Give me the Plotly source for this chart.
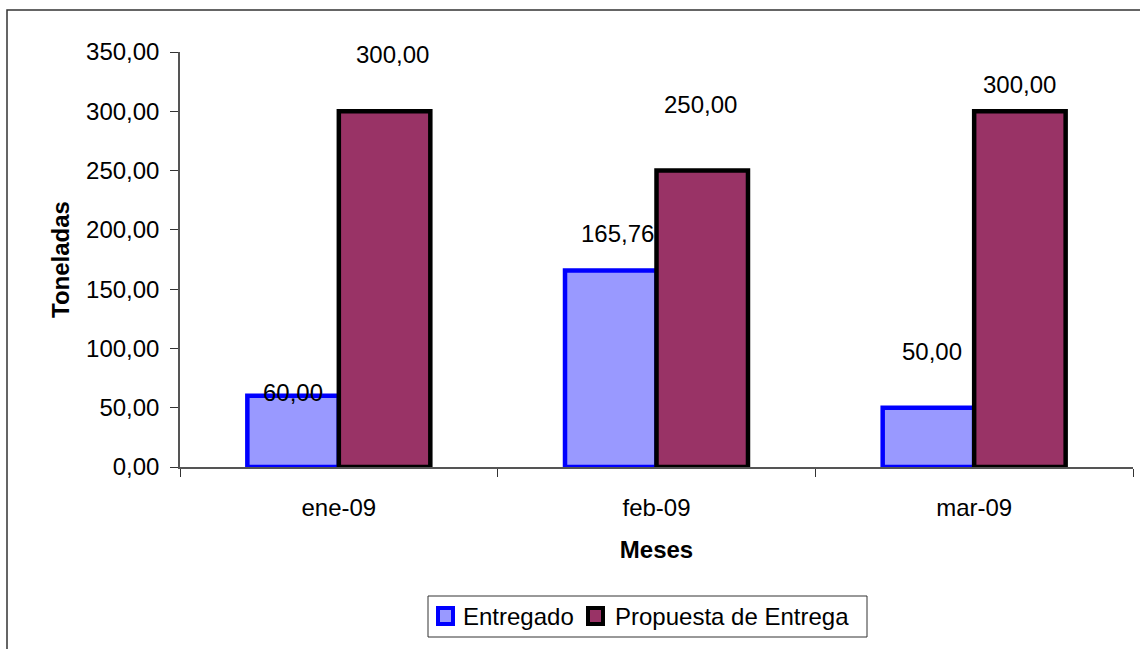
import plotly.graph_objects as go

# Monthly deliveries (tonnes)
meses = ["ene-09", "feb-09", "mar-09"]
entregado = [60.00, 165.76, 50.00]
propuesta = [300.00, 250.00, 300.00]
y_ticks = [0, 50, 100, 150, 200, 250, 300, 350]

# Label offsets (pixels) relative to each bar's top centre
ent_offsets = [(0, 3), (7, 37), (4, 56)]
pro_offsets = [(8, 57), (-2, 66), (0, 27)]

FONT = "Liberation Sans, Arial, sans-serif"
FS = 24

W, H = 1140, 649
ML, MR, MT, MB = 180, 7, 52, 182
PW, PH = W - ML - MR, H - MT - MB


def fmt(v):
    return f"{v:,.2f}".replace(",", "X").replace(".", ",").replace("X", ".")


def px_x(x):
    return (x - ML) / PW


def px_y(y):
    return 1 - (y - MT) / PH


series = [
    dict(name="Entregado", values=entregado, fill="#9999FF", edge="#0000FF"),
    dict(name="Propuesta de Entrega", values=propuesta, fill="#993366", edge="#000000"),
]

fig = go.Figure()
for s in series:
    fig.add_trace(go.Bar(
        name=s["name"], x=meses, y=s["values"],
        marker=dict(color=s["fill"], line=dict(color=s["edge"], width=4.5)),
    ))

annotations = []
half = 0.288  # half of the category share taken by one bar
for i, m in enumerate(meses):
    for val, (dx, dy), side in ((entregado[i], ent_offsets[i], -1),
                                (propuesta[i], pro_offsets[i], 1)):
        annotations.append(dict(
            x=i + side * half / 2, y=val, xref="x", yref="y",
            text=fmt(val), showarrow=False,
            xshift=dx, yshift=dy,
            font=dict(family=FONT, size=FS, color="black"),
        ))

# Legend drawn as a framed box with swatches
shapes = [
    # outer chart frame
    dict(type="rect", xref="paper", yref="paper",
         x0=px_x(7), x1=px_x(1160), y0=px_y(670), y1=px_y(10),
         line=dict(color="#333333", width=1.5), layer="below"),
    # legend frame
    dict(type="rect", xref="paper", yref="paper",
         x0=px_x(428), x1=px_x(867), y0=px_y(637), y1=px_y(596),
         line=dict(color="#333333", width=1), layer="above"),
]
legend_items = [(436, 461), (586, 613)]
for s, (sx, tx) in zip(series, legend_items):
    shapes.append(dict(
        type="rect", xref="paper", yref="paper",
        x0=px_x(sx + 2), x1=px_x(sx + 17), y0=px_y(624), y1=px_y(608),
        fillcolor=s["fill"], line=dict(color=s["edge"], width=4), layer="above",
    ))
    annotations.append(dict(
        x=px_x(tx), y=px_y(616), xref="paper", yref="paper",
        xanchor="left", yanchor="middle", text=s["name"], showarrow=False,
        font=dict(family=FONT, size=FS, color="black"),
    ))

fig.update_layout(
    width=W, height=H,
    margin=dict(l=ML, r=MR, t=MT, b=MB),
    paper_bgcolor="white", plot_bgcolor="white",
    barmode="group", bargap=0.424, bargroupgap=0,
    font=dict(family=FONT, size=FS, color="black"),
    showlegend=False,
    annotations=annotations,
    shapes=shapes,
)

fig.update_xaxes(
    type="category", tickson="boundaries", ticks="outside", ticklen=8,
    tickcolor="#333333", showline=True, linecolor="#555555", linewidth=1.5,
    showgrid=False, tickfont=dict(size=FS), ticklabelstandoff=18,
    title=dict(text="<b>Meses</b>", font=dict(size=FS), standoff=22),
)
fig.update_yaxes(
    range=[0, 350], tickvals=y_ticks, ticktext=[fmt(v) for v in y_ticks],
    ticks="outside", ticklen=8, tickcolor="#333333",
    showline=True, linecolor="#555555", linewidth=1.5,
    showgrid=False, zeroline=False, tickfont=dict(size=FS), ticklabelstandoff=6,
    title=dict(text="<b>Toneladas</b>", font=dict(size=FS), standoff=10),
)

fig.write_html("out.html")
